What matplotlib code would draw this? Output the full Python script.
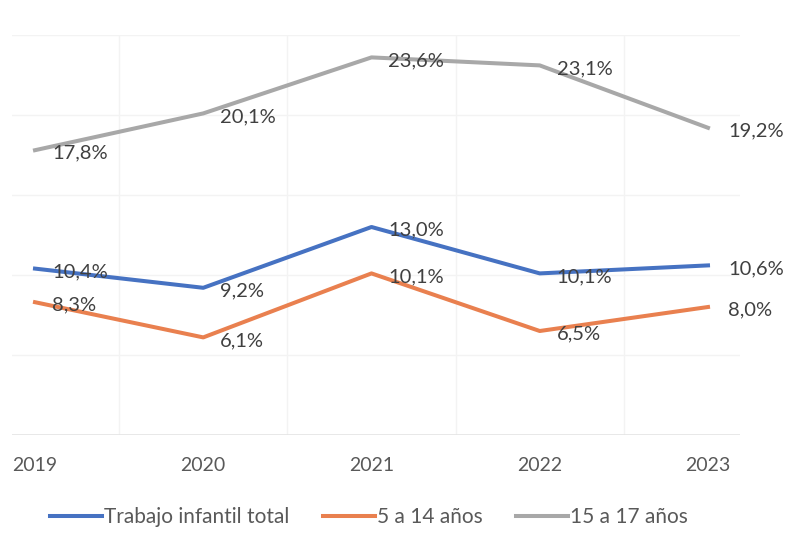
import matplotlib
matplotlib.use("Agg")
import matplotlib.pyplot as plt
from matplotlib.lines import Line2D

years = [2019, 2020, 2021, 2022, 2023]
total = [10.4, 9.2, 13.0, 10.1, 10.6]
age_5_14 = [8.3, 6.1, 10.1, 6.5, 8.0]
age_15_17 = [17.8, 20.1, 23.6, 23.1, 19.2]
series_names = ["Trabajo infantil total", "5 a 14 años", "15 a 17 años"]
colors = ["#4672C2", "#E9804F", "#A8A8A8"]

plt.rcParams['font.family'] = ['Lato', 'DejaVu Sans']
text_color = "#595959"

fig = plt.figure(figsize=(8.09, 5.51), dpi=100)
W, H = 809, 551
ax = fig.add_axes([12 / W, 1 - 435 / H, (740 - 12) / W, (435 - 35) / H])

x = list(range(len(years)))
px_per_cat = (708 - 35) / 4
ax.set_xlim(0 - 23 / px_per_cat, 4 + 32 / px_per_cat)
ax.set_ylim(0, 25)

for v in [5, 10, 15, 20, 25]:
    ax.axhline(v, color="#f3f3f3", lw=1, zorder=0)
for i in range(len(years) - 1):
    ax.axvline(i + 0.5, color="#f3f3f3", lw=1, zorder=0)
ax.axhline(0, color="#e4e4e4", lw=1.2, zorder=0)

series = [total, age_5_14, age_15_17]
for vals, c in zip(series, colors):
    ax.plot(x, vals, color=c, lw=2.9, solid_joinstyle="round", zorder=3)
    for xi, v in zip(x, vals):
        dx = 17 if xi < 4 else 20
        ax.annotate(f"{v:.1f}%".replace(".", ","), (xi, v), xytext=(dx * 0.72, -3 * 0.72),
                    textcoords="offset points", ha="left", va="center",
                    fontsize=14.5, color="#404040", zorder=4)

for s in ax.spines.values():
    s.set_visible(False)
ax.set_yticks([])
ax.set_xticks(x)
ax.set_xticklabels([str(y) for y in years], fontsize=14, color=text_color)
ax.tick_params(axis="x", length=0, pad=16)

handles = [Line2D([0], [0], color=c, lw=2.9) for c in colors]
fig.legend(handles, series_names, loc="center", bbox_to_anchor=(369 / W, 1 - 517 / H),
           ncol=3, frameon=False, fontsize=15, labelcolor=text_color,
           handlelength=2.5, handletextpad=0.1, columnspacing=1.6)

fig.savefig("out.png", dpi=100, facecolor="white")
